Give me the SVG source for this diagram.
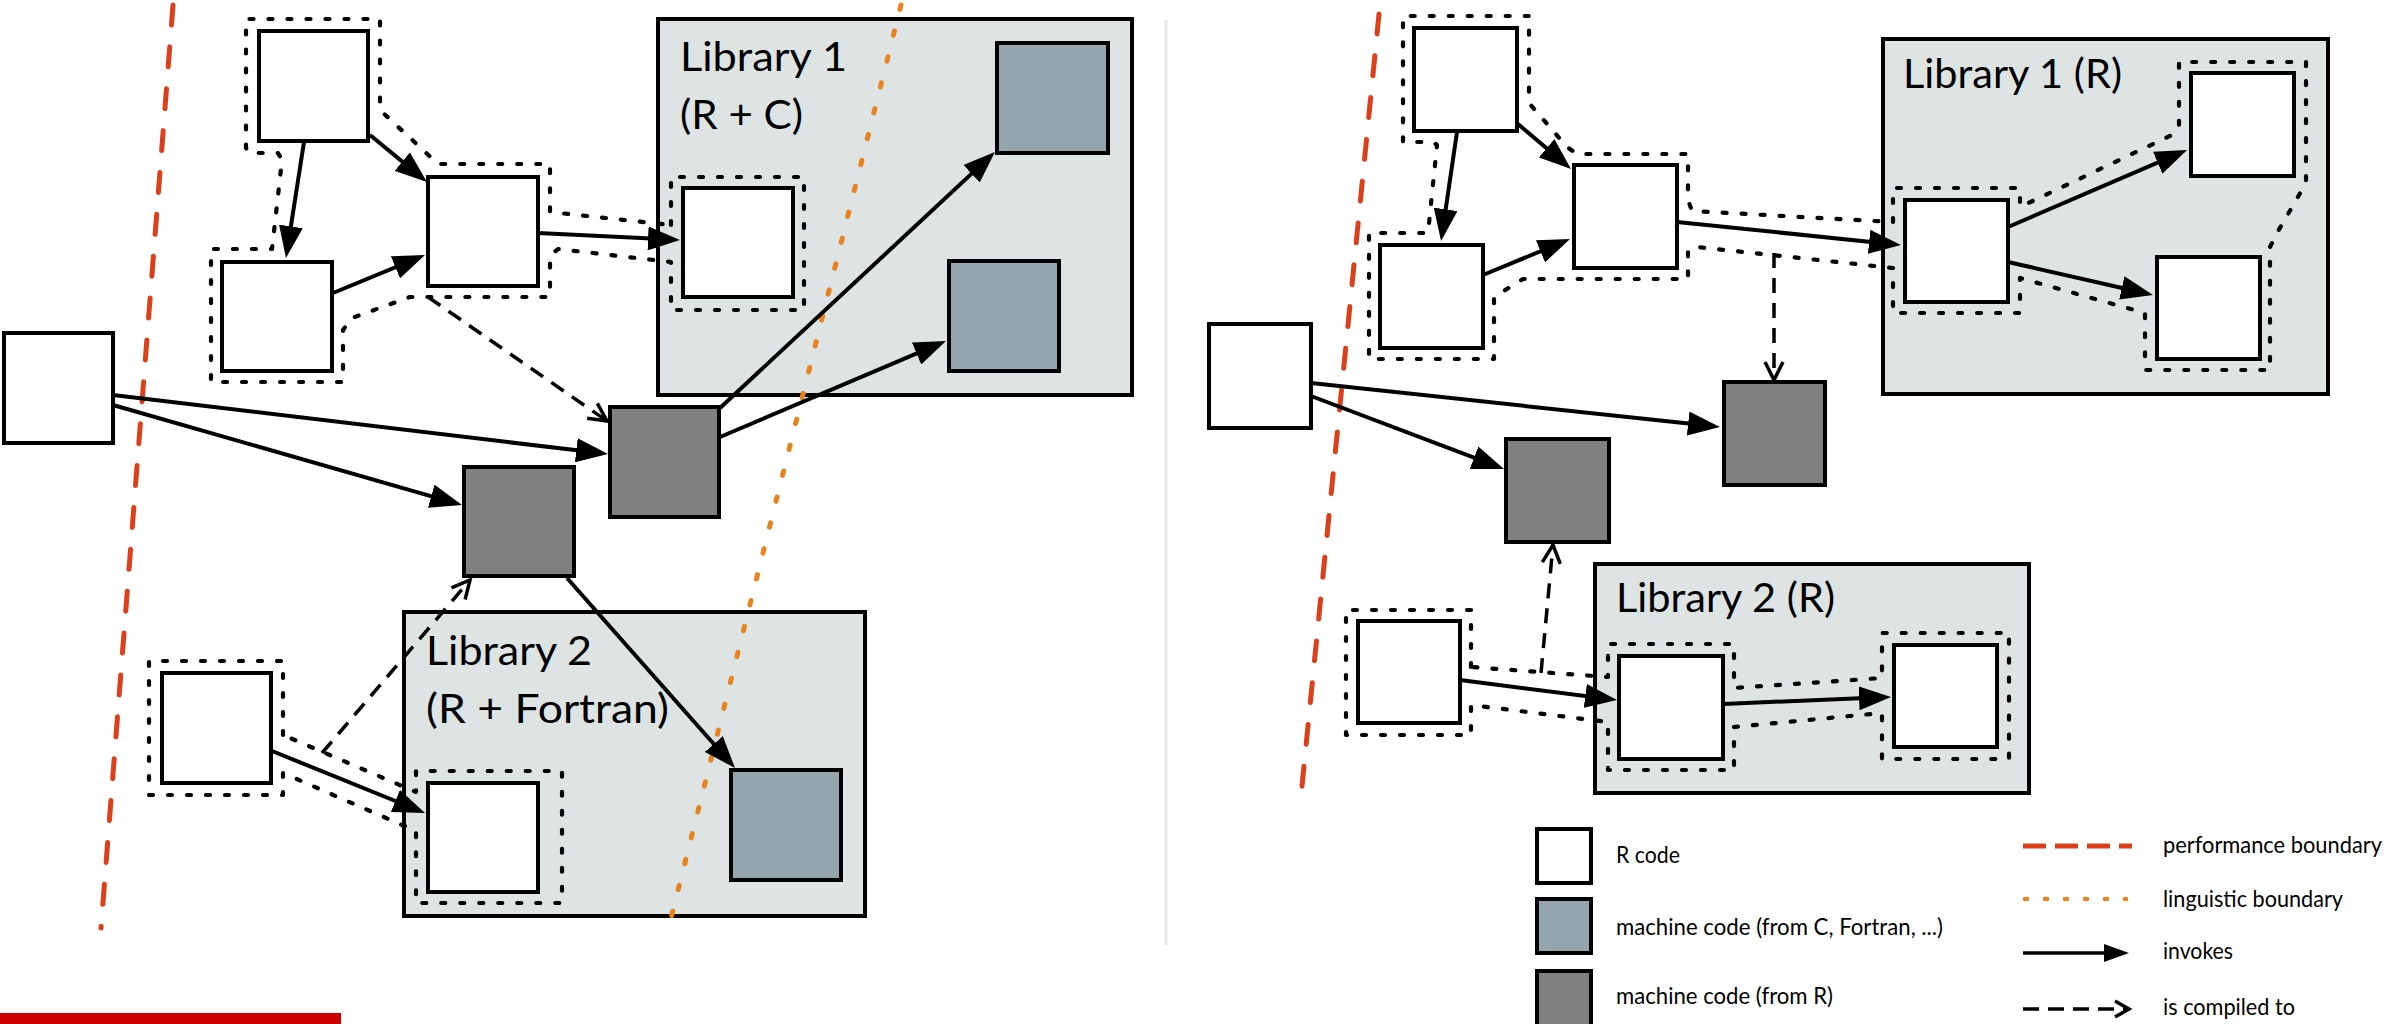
<svg xmlns="http://www.w3.org/2000/svg" width="2389" height="1024" viewBox="0 0 2389 1024">
<style>
.lib{fill:#DEE4E4;stroke:#000;stroke-width:4}
.r{fill:#FFFFFF;stroke:#000;stroke-width:4}
.mc{fill:#95A5AE;stroke:#000;stroke-width:4}
.mr{fill:#808080;stroke:#000;stroke-width:4}
.trace{fill:none;stroke:#000;stroke-width:4.2;stroke-dasharray:4 15;stroke-linecap:round;stroke-linejoin:round}
.perf{fill:none;stroke:#DD3F1B;stroke-width:5;stroke-dasharray:20 22;stroke-linecap:round}
.ling{fill:none;stroke:#E8821E;stroke-width:5;stroke-dasharray:4.5 22.2;stroke-linecap:round}
.inv{fill:none;stroke:#000;stroke-width:4;marker-end:url(#arr)}
.cmp{fill:none;stroke:#000;stroke-width:3.5;stroke-dasharray:15 10;marker-end:url(#open)}
.title{font-family:Lato,"Open Sans",sans-serif;font-size:41px;fill:#000}
.leg{font-family:Lato,"Open Sans",sans-serif;font-size:23px;fill:#000}
</style>
<defs>
<marker id="arr" markerUnits="userSpaceOnUse" markerWidth="32" markerHeight="24" refX="24" refY="12" orient="auto"><path d="M0,0 L32,12 L0,24 z" fill="#000"/></marker>
<marker id="open" markerUnits="userSpaceOnUse" markerWidth="24" markerHeight="22" refX="20" refY="11" orient="auto"><path d="M2,2 L20,11 L2,20" fill="none" stroke="#000" stroke-width="3.5"/></marker>
</defs>
<rect x="0" y="0" width="2389" height="1024" fill="#FFFFFF"/>

<!-- separator and bar -->
<line x1="1166" y1="20" x2="1166" y2="945" stroke="#E4E8EA" stroke-width="3"/>
<rect x="0" y="1013" width="341" height="11" fill="#CC0000"/>

<!-- libraries -->
<g id="lib1-left"><rect class="lib" x="658" y="19" width="474" height="376"/>
<text class="title" x="680" y="71" textLength="167" lengthAdjust="spacingAndGlyphs">Library 1</text>
<text class="title" x="680" y="129" textLength="123" lengthAdjust="spacingAndGlyphs">(R + C)</text></g>
<g id="lib2-left"><rect class="lib" x="404" y="612" width="461" height="304"/>
<text class="title" x="426" y="665" textLength="166" lengthAdjust="spacingAndGlyphs">Library 2</text>
<text class="title" x="426" y="723" textLength="243" lengthAdjust="spacingAndGlyphs">(R + Fortran)</text></g>
<g id="lib1-right"><rect class="lib" x="1883" y="39" width="445" height="355"/>
<text class="title" x="1903" y="88" textLength="219" lengthAdjust="spacingAndGlyphs">Library 1 (R)</text></g>
<g id="lib2-right"><rect class="lib" x="1595" y="564" width="434" height="229"/>
<text class="title" x="1616" y="612" textLength="219" lengthAdjust="spacingAndGlyphs">Library 2 (R)</text></g>

<!-- boundaries -->
<g id="boundaries">
<line class="perf" x1="173" y1="5" x2="101" y2="928"/>
<line class="perf" x1="1379" y1="14" x2="1300" y2="806"/>
<line class="ling" x1="901" y1="5" x2="668" y2="930"/>
</g>

<!-- execution traces -->
<g id="traces">
<path class="trace" d="M671,225 L671,177 L804,177 L804,310 L671,310 L671,262 L558,249 L550,256 L550,297 L410,297 L352,318 L343,330 L343,382 L211,382 L211,249 L272,249 L282,160 L278,153 L249,153 L246,148 L246,19 L380,19 L380,110 L438,164 L550,164 L550,212 Z"/>
<path class="trace" d="M283,735 L283,661 L149,661 L149,795 L283,795 L283,773 L402,825 L416,830 L416,903 L562,903 L562,771 L416,771 L416,792 Z"/>
<path class="trace" d="M1893,222 L1893,188 L2020,188 L2020,207 L2172,135 L2179,127 L2179,62 L2306,62 L2306,183 L2277,233 L2270,247 L2270,370 L2145,370 L2145,313 L2020,278 L2020,313 L1893,313 L1893,268 L1697,247 L1688,250 L1688,279 L1523,279 L1494,297 L1494,359 L1369,359 L1369,233 L1428,233 L1437,145 L1433,142 L1403,142 L1403,16 L1529,16 L1529,103 L1567,147 L1577,154 L1688,154 L1688,200 L1692,211 Z"/>
<path class="trace" d="M1471,667 L1471,610 L1346,610 L1346,735 L1471,735 L1471,705 L1608,722 L1608,770 L1734,770 L1734,727 L1882,713 L1882,759 L2009,759 L2009,633 L1882,633 L1882,678 L1734,688 L1734,644 L1608,644 L1608,677 Z"/>
</g>

<!-- nodes left -->
<g id="nA"><rect class="r" x="259" y="31" width="109" height="110"/></g>
<g id="nB"><rect class="r" x="222" y="262" width="110" height="109"/></g>
<g id="nC"><rect class="r" x="428" y="177" width="110" height="109"/></g>
<g id="nD"><rect class="r" x="4" y="333" width="109" height="110"/></g>
<g id="nL1"><rect class="r" x="683" y="188" width="110" height="109"/></g>
<g id="nG"><rect class="mc" x="997" y="43" width="111" height="110"/></g>
<g id="nH"><rect class="mc" x="949" y="261" width="110" height="110"/></g>
<g id="nE"><rect class="mr" x="610" y="407" width="109" height="110"/></g>
<g id="nF"><rect class="mr" x="464" y="467" width="110" height="109"/></g>
<g id="nI"><rect class="r" x="162" y="673" width="109" height="110"/></g>
<g id="nJ"><rect class="r" x="428" y="783" width="110" height="109"/></g>
<g id="nK"><rect class="mc" x="731" y="770" width="110" height="110"/></g>

<!-- nodes right -->
<g id="rA"><rect class="r" x="1414" y="28" width="103" height="103"/></g>
<g id="rB"><rect class="r" x="1380" y="245" width="103" height="103"/></g>
<g id="rC"><rect class="r" x="1574" y="165" width="103" height="103"/></g>
<g id="rD"><rect class="r" x="1209" y="324" width="102" height="104"/></g>
<g id="rE"><rect class="mr" x="1724" y="382" width="101" height="103"/></g>
<g id="rF"><rect class="mr" x="1506" y="439" width="103" height="103"/></g>
<g id="rG"><rect class="r" x="1905" y="200" width="103" height="102"/></g>
<g id="rH"><rect class="r" x="2191" y="73" width="103" height="103"/></g>
<g id="rI"><rect class="r" x="2157" y="257" width="103" height="102"/></g>
<g id="rJ"><rect class="r" x="1358" y="621" width="102" height="102"/></g>
<g id="rK"><rect class="r" x="1619" y="656" width="104" height="103"/></g>
<g id="rL"><rect class="r" x="1894" y="645" width="103" height="102"/></g>

<!-- connectors -->
<g id="connectors">
<line class="inv" x1="304" y1="142" x2="287.2" y2="250.1"/>
<line class="inv" x1="370" y1="135" x2="420.8" y2="176.9"/>
<line class="inv" x1="333" y1="293" x2="417.6" y2="258.1"/>
<line class="inv" x1="538" y1="233" x2="672" y2="239.6"/>
<line class="inv" x1="113" y1="395" x2="600.1" y2="453.1"/>
<line class="inv" x1="113" y1="405" x2="454.3" y2="502.8"/>
<line class="inv" x1="720" y1="408" x2="989.1" y2="157.4"/>
<line class="inv" x1="720" y1="437" x2="938.6" y2="344.1"/>
<line class="inv" x1="567" y1="578" x2="729.7" y2="762"/>
<line class="inv" x1="272" y1="751" x2="417.6" y2="810"/>
<line class="cmp" x1="428" y1="297" x2="607" y2="421"/>
<line class="cmp" x1="322" y1="753" x2="470" y2="580"/>

<line class="inv" x1="1457" y1="132" x2="1442.2" y2="233.1"/>
<line class="inv" x1="1518" y1="124" x2="1564.9" y2="163.8"/>
<line class="inv" x1="1483" y1="275" x2="1562.6" y2="242.1"/>
<line class="inv" x1="1677" y1="222" x2="1893" y2="244.2"/>
<line class="inv" x1="2008" y1="227" x2="2179.7" y2="153.2"/>
<line class="inv" x1="2008" y1="262" x2="2145.2" y2="293.2"/>
<line class="inv" x1="1311" y1="383" x2="1712" y2="426.1"/>
<line class="inv" x1="1311" y1="396" x2="1496.5" y2="466.2"/>
<line class="inv" x1="1460" y1="680" x2="1609.1" y2="699"/>
<line class="inv" x1="1723" y1="704" x2="1883" y2="697.3"/>
<line class="cmp" x1="1774" y1="253" x2="1774" y2="380"/>
<line class="cmp" x1="1541" y1="673" x2="1553" y2="545"/>
</g>

<!-- legend -->
<g id="legend">
<g id="leg-r"><rect class="r" x="1537" y="829" width="54" height="54" stroke-width="3.5"/>
<text class="leg" x="1616" y="863" textLength="64" lengthAdjust="spacingAndGlyphs">R code</text></g>
<g id="leg-mc"><rect class="mc" x="1537" y="899" width="54" height="54" stroke-width="3.5"/>
<text class="leg" x="1616" y="935" textLength="327" lengthAdjust="spacingAndGlyphs">machine code (from C, Fortran, ...)</text></g>
<g id="leg-mr"><rect class="mr" x="1537" y="971" width="54" height="56" stroke-width="3.5"/>
<text class="leg" x="1616" y="1004" textLength="217" lengthAdjust="spacingAndGlyphs">machine code (from R)</text></g>
<g id="leg-perf"><line x1="2023" y1="846" x2="2132" y2="846" stroke="#DD3F1B" stroke-width="5" stroke-dasharray="23 9"/>
<text class="leg" x="2163" y="853" textLength="219" lengthAdjust="spacingAndGlyphs">performance boundary</text></g>
<g id="leg-ling"><line x1="2025" y1="899" x2="2126" y2="899" stroke="#E8821E" stroke-width="4.5" stroke-dasharray="2 18" stroke-linecap="round"/>
<text class="leg" x="2163" y="907" textLength="180" lengthAdjust="spacingAndGlyphs">linguistic boundary</text></g>
<g id="leg-inv"><line x1="2023" y1="953" x2="2106" y2="953" stroke="#000" stroke-width="3.5"/><path d="M2104,944 L2129,953 L2104,962 z" fill="#000"/>
<text class="leg" x="2163" y="959" textLength="70" lengthAdjust="spacingAndGlyphs">invokes</text></g>
<g id="leg-cmp"><line x1="2023" y1="1009" x2="2126" y2="1009" stroke="#000" stroke-width="3.5" stroke-dasharray="16 9"/><path d="M2115,1001 L2129,1009 L2115,1017" fill="none" stroke="#000" stroke-width="3.5"/>
<text class="leg" x="2163" y="1015" textLength="132" lengthAdjust="spacingAndGlyphs">is compiled to</text></g>
</g>
</svg>
